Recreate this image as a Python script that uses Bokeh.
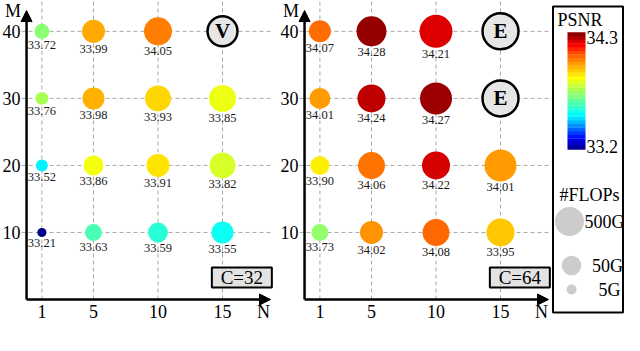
import numpy as np
from bokeh.plotting import figure
from bokeh.models import (Range1d, Arrow, NormalHead, ColumnDataSource, LinearColorMapper)
from bokeh.transform import transform
from bokeh.embed import file_html
from bokeh.resources import INLINE
from bokeh.core.properties import value

# ---------------- data ----------------
N_VALUES = [1, 5, 10, 15]
M_VALUES = [40, 30, 20, 10]

# rows follow M_VALUES (40, 30, 20, 10), columns follow N_VALUES
PSNR_C32 = [[33.72, 33.99, 34.05, None],
            [33.76, 33.98, 33.93, 33.85],
            [33.52, 33.86, 33.91, 33.82],
            [33.21, 33.63, 33.59, 33.55]]
FLOPS_C32 = [[17, 117, 393, None],
             [10, 92, 241, 305],
             [8, 56, 117, 241],
             [4, 27, 56, 92]]
PSNR_C64 = [[34.07, 34.28, 34.21, None],
            [34.01, 34.24, 34.27, None],
            [33.90, 34.06, 34.22, 34.01],
            [33.73, 34.02, 34.08, 33.95]]
FLOPS_C64 = [[92, 637, 1315, None],
             [72, 393, 1034, None],
             [44, 305, 393, 1034],
             [27, 117, 305, 393]]
SPECIAL_C32 = [(15, 40, "V")]
SPECIAL_C64 = [(15, 40, "E"), (15, 30, "E")]
PANEL_TAGS = ["C=32", "C=64"]

PSNR_LOW, PSNR_HIGH = 33.2, 34.3
LEGEND_FLOPS = [500, 50, 5]
LEGEND_LABELS = ["500G", "50G", "5G"]

# ---------------- styles ----------------
FONT = "Liberation Serif"
SPECIAL_SIZE = {"V": 30, "E": 36}
W, H = 624, 333
PX_PER_N = 12.9
LEFT_ORIGIN, RIGHT_ORIGIN = 28.5, 306.5


def jet_hex(t):
    r = np.clip(min(4 * t - 1.5, -4 * t + 4.5), 0, 1)
    g = np.clip(min(4 * t - 0.5, -4 * t + 3.5), 0, 1)
    b = np.clip(min(4 * t + 0.5, -4 * t + 2.5), 0, 1)
    return "#%02x%02x%02x" % (int(round(r * 255)), int(round(g * 255)), int(round(b * 255)))


def colour_pos(v):
    # slightly non-linear placement of PSNR along the jet scale
    return float(np.interp(v, [33.2, 33.5, 34.1, 34.3], [0, 0.35, 0.79, 1.0]))


NPAL = 256
JET = [jet_hex(colour_pos(PSNR_LOW + (k + 0.5) / NPAL * (PSNR_HIGH - PSNR_LOW)))
       for k in range(NPAL)]
mapper = LinearColorMapper(palette=JET, low=PSNR_LOW, high=PSNR_HIGH)


def flops_to_d(f):
    return 10 + 9.5 * np.log10(f / 5.0)


p = figure(width=W, height=H, x_range=Range1d(0, W), y_range=Range1d(-5.07, 44.6),
           output_backend="svg", toolbar_location=None, x_axis_type=None,
           y_axis_type=None, min_border=0)
p.outline_line_color = None
p.xgrid.visible = False
p.ygrid.visible = False
p.extra_x_ranges = {
    "left": Range1d(-LEFT_ORIGIN / PX_PER_N, (W - LEFT_ORIGIN) / PX_PER_N),
    "right": Range1d(-RIGHT_ORIGIN / PX_PER_N, (W - RIGHT_ORIGIN) / PX_PER_N),
}
p.extra_y_ranges = {"px": Range1d(H, 0)}


def panel(rn, psnr, flops, specials, tag):
    # dashed grid
    p.segment(x0=N_VALUES, y0=[0] * 4, x1=N_VALUES, y1=[44.6] * 4, x_range_name=rn,
              line_color="#a8a8a8", line_dash="4 3", line_width=1)
    p.segment(x0=[-0.58] * 4, y0=M_VALUES, x1=[18.9] * 4, y1=M_VALUES, x_range_name=rn,
              line_color="#a8a8a8", line_dash="4 3", line_width=1)
    # tick labels
    p.text(x=N_VALUES, y=[-1.79] * 4, text=[str(n) for n in N_VALUES], x_range_name=rn,
           text_align="center", text_baseline="middle", text_font=value(FONT),
           text_font_size="18px", text_color="black")
    p.text(x=[-0.66] * 4, y=M_VALUES, text=[str(m) for m in M_VALUES], x_range_name=rn,
           text_align="right", text_baseline="middle", text_font=value(FONT),
           text_font_size="18px", text_color="black")
    p.text(x=[-1.24, 18.18], y=[43.1, -1.79], text=["M", "N"], x_range_name=rn,
           text_align="center", text_baseline="middle", text_font=value(FONT),
           text_font_size="18px", text_color="black")

    xs, ys, vs, ds, labs, offs = [], [], [], [], [], []
    for i, m in enumerate(M_VALUES):
        for j, n in enumerate(N_VALUES):
            v = psnr[i][j]
            if v is None:
                continue
            d = flops_to_d(flops[i][j])
            xs.append(n); ys.append(m); vs.append(v); ds.append(d)
            labs.append("%.2f" % v); offs.append(d / 2 + 2)
    src = ColumnDataSource(dict(x=xs, y=ys, psnr=vs, d=ds, label=labs, yoff=offs))
    p.scatter("x", "y", size="d", source=src, marker="circle", x_range_name=rn,
              fill_color=transform("psnr", mapper), line_color=None)
    p.text("x", "y", text="label", source=src, text_align="center", x_range_name=rn,
           text_baseline="top", y_offset="yoff", text_font=value(FONT),
           text_font_size="12.5px", text_color="#1a1a1a")

    ssrc = ColumnDataSource(dict(x=[s[0] for s in specials], y=[s[1] for s in specials],
                                 t=[s[2] for s in specials],
                                 size=[SPECIAL_SIZE[s[2]] for s in specials]))
    p.scatter("x", "y", size="size", source=ssrc, marker="circle", x_range_name=rn,
              fill_color="#e6e6e6", line_color="black", line_width=2.5)
    p.text("x", "y", text="t", source=ssrc, text_align="center", x_range_name=rn,
           text_baseline="middle", text_font=value(FONT), text_font_style="bold",
           text_font_size="21px", text_color="black")

    # tag box
    p.rect(x=16.5, y=3.28, width=60, height=20, width_units="screen",
           height_units="screen", fill_color="#d9d9d9", fill_alpha=0.75,
           line_color="black", line_width=2, x_range_name=rn)
    p.text(x=[16.5], y=[3.28], text=[tag], text_align="center", x_range_name=rn,
           text_baseline="middle", text_font=value(FONT), text_font_size="19px",
           text_color="black")

    # axes with arrows
    p.add_layout(Arrow(end=NormalHead(size=11, fill_color="black", line_color="black"),
                       x_start=-0.19, y_start=0, x_end=18.72, y_end=0, x_range_name=rn,
                       line_width=2.5, line_color="black"))
    p.add_layout(Arrow(end=NormalHead(size=11, fill_color="black", line_color="black"),
                       x_start=-0.19, y_start=0, x_end=-0.19, y_end=43.1, x_range_name=rn,
                       line_width=2.5, line_color="black"))


panel("left", PSNR_C32, FLOPS_C32, SPECIAL_C32, PANEL_TAGS[0])
panel("right", PSNR_C64, FLOPS_C64, SPECIAL_C64, PANEL_TAGS[1])

# ---------------- legend (pixel coordinates) ----------------
L0 = 552
p.rect(x=L0 + 35.5, y=159, width=70, height=306, fill_color=None, line_color="black",
       line_width=2, y_range_name="px")
nsteps = 32
bar_top, bar_bot = 32, 149
step_h = (bar_bot - bar_top) / nsteps
cb_y = [bar_bot - (k + 0.5) * step_h for k in range(nsteps)]
cb_c = [JET[int((k + 0.5) / nsteps * NPAL)] for k in range(nsteps)]
p.rect(x=L0 + 24, y=cb_y, width=18, height=step_h + 0.3, fill_color=cb_c,
       line_color=None, y_range_name="px")
p.text(x=[L0 + 5], y=[19], text=["PSNR"], text_align="left", text_baseline="middle",
       text_font=value(FONT), text_font_size="18px", text_color="black",
       y_range_name="px")
p.text(x=[L0 + 34, L0 + 34], y=[37, 146], text=["%.1f" % PSNR_HIGH, "%.1f" % PSNR_LOW],
       text_align="left", text_baseline="middle", text_font=value(FONT),
       text_font_size="18px", text_color="black", y_range_name="px")
p.text(x=[L0 + 37], y=[194], text=["#FLOPs"], text_align="center",
       text_baseline="middle", text_font=value(FONT), text_font_size="18px",
       text_color="black", y_range_name="px")
leg_src = ColumnDataSource(dict(x=[L0 + 17, L0 + 19, L0 + 19], y=[221, 265, 289],
                                d=[flops_to_d(f) for f in LEGEND_FLOPS],
                                lx=[L0 + 52, L0 + 55, L0 + 57], label=LEGEND_LABELS))
p.scatter("x", "y", size="d", source=leg_src, marker="circle", fill_color="#cccccc",
          line_color=None, y_range_name="px")
p.text("lx", "y", text="label", source=leg_src, text_align="center",
       text_baseline="middle", text_font=value(FONT), text_font_size="18px",
       text_color="black", y_range_name="px")

open("out.html", "w").write(file_html(p, INLINE))
